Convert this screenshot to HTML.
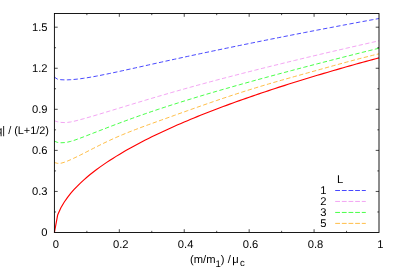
<!DOCTYPE html>
<html><head><meta charset="utf-8"><style>
html,body{margin:0;padding:0;background:#fff;}
svg{display:block;will-change:transform;}
text{font-family:"Liberation Sans",sans-serif;font-size:11.2px;fill:#000;text-rendering:geometricPrecision;}
</style></head><body>
<svg width="399" height="279" viewBox="0 0 399 279">
<rect width="399" height="279" fill="#fff"/>
<g>
<path d="M54.40,77.15 L57.65,79.24 L60.89,79.71 L64.14,79.87 L67.38,79.85 L70.63,79.70 L73.88,79.45 L77.12,79.13 L80.37,78.74 L83.61,78.29 L86.86,77.79 L90.11,77.25 L93.35,76.68 L96.60,76.08 L99.84,75.46 L103.09,74.81 L106.34,74.16 L109.58,73.49 L112.83,72.81 L116.07,72.11 L119.32,71.42 L122.57,70.71 L125.81,70.00 L129.06,69.29 L132.30,68.57 L135.55,67.85 L138.80,67.13 L142.04,66.41 L145.29,65.69 L148.53,64.97 L151.78,64.24 L155.03,63.52 L158.27,62.80 L161.52,62.08 L164.76,61.37 L168.01,60.65 L171.26,59.94 L174.50,59.23 L177.75,58.53 L180.99,57.82 L184.24,57.12 L187.49,56.42 L190.73,55.72 L193.98,55.03 L197.22,54.34 L200.47,53.65 L203.72,52.96 L206.96,52.27 L210.21,51.59 L213.45,50.91 L216.70,50.23 L219.95,49.55 L223.19,48.87 L226.44,48.20 L229.68,47.53 L232.93,46.86 L236.18,46.19 L239.42,45.53 L242.67,44.86 L245.91,44.20 L249.16,43.54 L252.41,42.88 L255.65,42.23 L258.90,41.57 L262.14,40.92 L265.39,40.27 L268.64,39.62 L271.88,38.97 L275.13,38.33 L278.37,37.69 L281.62,37.04 L284.87,36.40 L288.11,35.77 L291.36,35.13 L294.60,34.49 L297.85,33.86 L301.10,33.23 L304.34,32.60 L307.59,31.97 L310.83,31.34 L314.08,30.72 L317.33,30.09 L320.57,29.47 L323.82,28.85 L327.06,28.23 L330.31,27.61 L333.56,27.00 L336.80,26.38 L340.05,25.77 L343.29,25.16 L346.54,24.55 L349.79,23.94 L353.03,23.33 L356.28,22.73 L359.52,22.12 L362.77,21.52 L366.02,20.92 L369.26,20.32 L372.51,19.72 L375.75,19.12 L379.00,18.53" fill="none" stroke="#0000ff" stroke-width="0.72" stroke-dasharray="4.33 2.37" stroke-dashoffset="0.3"/>
<path d="M54.40,120.78 L57.65,121.82 L60.89,122.40 L64.14,122.57 L67.38,122.41 L70.63,121.97 L73.88,121.29 L77.12,120.49 L80.37,119.63 L83.61,118.74 L86.86,117.83 L90.11,116.89 L93.35,115.94 L96.60,114.98 L99.84,114.01 L103.09,113.03 L106.34,112.04 L109.58,111.06 L112.83,110.07 L116.07,109.08 L119.32,108.09 L122.57,107.10 L125.81,106.11 L129.06,105.12 L132.30,104.14 L135.55,103.16 L138.80,102.18 L142.04,101.21 L145.29,100.23 L148.53,99.27 L151.78,98.30 L155.03,97.35 L158.27,96.39 L161.52,95.44 L164.76,94.50 L168.01,93.56 L171.26,92.62 L174.50,91.69 L177.75,90.77 L180.99,89.85 L184.24,88.94 L187.49,88.03 L190.73,87.13 L193.98,86.23 L197.22,85.34 L200.47,84.45 L203.72,83.57 L206.96,82.69 L210.21,81.82 L213.45,80.95 L216.70,80.09 L219.95,79.23 L223.19,78.38 L226.44,77.53 L229.68,76.68 L232.93,75.84 L236.18,75.00 L239.42,74.16 L242.67,73.33 L245.91,72.50 L249.16,71.68 L252.41,70.86 L255.65,70.04 L258.90,69.22 L262.14,68.41 L265.39,67.60 L268.64,66.80 L271.88,65.99 L275.13,65.19 L278.37,64.40 L281.62,63.60 L284.87,62.81 L288.11,62.02 L291.36,61.23 L294.60,60.45 L297.85,59.67 L301.10,58.89 L304.34,58.11 L307.59,57.33 L310.83,56.56 L314.08,55.79 L317.33,55.02 L320.57,54.26 L323.82,53.49 L327.06,52.73 L330.31,51.97 L333.56,51.22 L336.80,50.46 L340.05,49.71 L343.29,48.96 L346.54,48.21 L349.79,47.46 L353.03,46.71 L356.28,45.97 L359.52,45.23 L362.77,44.49 L366.02,43.75 L369.26,43.01 L372.51,42.28 L375.75,41.54 L379.00,40.81" fill="none" stroke="#ee82ee" stroke-width="0.72" stroke-dasharray="4.33 2.37" stroke-dashoffset="0.3"/>
<path d="M54.40,141.19 L57.65,142.43 L60.89,142.76 L64.14,142.64 L67.38,142.17 L70.63,141.41 L73.88,140.42 L77.12,139.29 L80.37,138.08 L83.61,136.85 L86.86,135.59 L90.11,134.33 L93.35,133.07 L96.60,131.81 L99.84,130.54 L103.09,129.29 L106.34,128.04 L109.58,126.79 L112.83,125.55 L116.07,124.32 L119.32,123.11 L122.57,121.90 L125.81,120.70 L129.06,119.51 L132.30,118.33 L135.55,117.17 L138.80,116.01 L142.04,114.87 L145.29,113.74 L148.53,112.62 L151.78,111.51 L155.03,110.42 L158.27,109.34 L161.52,108.26 L164.76,107.20 L168.01,106.15 L171.26,105.10 L174.50,104.07 L177.75,103.04 L180.99,102.02 L184.24,101.01 L187.49,100.00 L190.73,99.01 L193.98,98.02 L197.22,97.03 L200.47,96.06 L203.72,95.09 L206.96,94.12 L210.21,93.16 L213.45,92.21 L216.70,91.26 L219.95,90.32 L223.19,89.38 L226.44,88.45 L229.68,87.52 L232.93,86.59 L236.18,85.67 L239.42,84.76 L242.67,83.85 L245.91,82.94 L249.16,82.04 L252.41,81.14 L255.65,80.24 L258.90,79.35 L262.14,78.46 L265.39,77.58 L268.64,76.69 L271.88,75.82 L275.13,74.94 L278.37,74.07 L281.62,73.20 L284.87,72.33 L288.11,71.47 L291.36,70.61 L294.60,69.75 L297.85,68.89 L301.10,68.04 L304.34,67.19 L307.59,66.34 L310.83,65.50 L314.08,64.66 L317.33,63.81 L320.57,62.98 L323.82,62.14 L327.06,61.31 L330.31,60.47 L333.56,59.64 L336.80,58.82 L340.05,57.99 L343.29,57.17 L346.54,56.35 L349.79,55.53 L353.03,54.71 L356.28,53.89 L359.52,53.08 L362.77,52.26 L366.02,51.45 L369.26,50.64 L372.51,49.84 L375.75,49.03 L379.00,48.23" fill="none" stroke="#00ff00" stroke-width="0.72" stroke-dasharray="4.33 2.37" stroke-dashoffset="0.3"/>
<path d="M54.40,162.50 L57.65,163.37 L60.89,163.25 L64.14,162.33 L67.38,161.09 L70.63,159.69 L73.88,158.19 L77.12,156.63 L80.37,155.02 L83.61,153.37 L86.86,151.71 L90.11,150.04 L93.35,148.38 L96.60,146.73 L99.84,145.11 L103.09,143.51 L106.34,141.94 L109.58,140.41 L112.83,138.92 L116.07,137.46 L119.32,136.05 L122.57,134.68 L125.81,133.34 L129.06,132.04 L132.30,130.77 L135.55,129.52 L138.80,128.29 L142.04,127.07 L145.29,125.87 L148.53,124.68 L151.78,123.51 L155.03,122.33 L158.27,121.17 L161.52,120.00 L164.76,118.84 L168.01,117.68 L171.26,116.52 L174.50,115.35 L177.75,114.19 L180.99,113.02 L184.24,111.86 L187.49,110.70 L190.73,109.55 L193.98,108.40 L197.22,107.25 L200.47,106.11 L203.72,104.97 L206.96,103.84 L210.21,102.71 L213.45,101.60 L216.70,100.49 L219.95,99.38 L223.19,98.29 L226.44,97.20 L229.68,96.13 L232.93,95.06 L236.18,94.00 L239.42,92.95 L242.67,91.91 L245.91,90.88 L249.16,89.86 L252.41,88.85 L255.65,87.85 L258.90,86.86 L262.14,85.88 L265.39,84.91 L268.64,83.96 L271.88,83.01 L275.13,82.06 L278.37,81.13 L281.62,80.20 L284.87,79.28 L288.11,78.36 L291.36,77.44 L294.60,76.53 L297.85,75.62 L301.10,74.72 L304.34,73.81 L307.59,72.91 L310.83,72.01 L314.08,71.10 L317.33,70.20 L320.57,69.30 L323.82,68.39 L327.06,67.49 L330.31,66.58 L333.56,65.68 L336.80,64.78 L340.05,63.89 L343.29,63.00 L346.54,62.12 L349.79,61.24 L353.03,60.38 L356.28,59.52 L359.52,58.67 L362.77,57.83 L366.02,57.00 L369.26,56.18 L372.51,55.37 L375.75,54.58 L379.00,53.80" fill="none" stroke="#ffa500" stroke-width="0.72" stroke-dasharray="4.33 2.37" stroke-dashoffset="0.3"/>
<path d="M54.40,232.50 L57.65,215.03 L60.89,207.80 L64.14,202.25 L67.38,197.57 L70.63,193.45 L73.88,189.72 L77.12,186.29 L80.37,183.10 L83.61,180.10 L86.86,177.27 L90.11,174.57 L93.35,172.00 L96.60,169.53 L99.84,167.15 L103.09,164.86 L106.34,162.64 L109.58,160.49 L112.83,158.40 L116.07,156.37 L119.32,154.39 L122.57,152.46 L125.81,150.58 L129.06,148.74 L132.30,146.94 L135.55,145.17 L138.80,143.44 L142.04,141.75 L145.29,140.08 L148.53,138.45 L151.78,136.84 L155.03,135.26 L158.27,133.70 L161.52,132.17 L164.76,130.66 L168.01,129.17 L171.26,127.71 L174.50,126.26 L177.75,124.84 L180.99,123.43 L184.24,122.04 L187.49,120.67 L190.73,119.31 L193.98,117.97 L197.22,116.65 L200.47,115.34 L203.72,114.04 L206.96,112.76 L210.21,111.50 L213.45,110.24 L216.70,109.00 L219.95,107.77 L223.19,106.56 L226.44,105.35 L229.68,104.16 L232.93,102.97 L236.18,101.80 L239.42,100.64 L242.67,99.49 L245.91,98.35 L249.16,97.21 L252.41,96.09 L255.65,94.98 L258.90,93.87 L262.14,92.78 L265.39,91.69 L268.64,90.61 L271.88,89.54 L275.13,88.48 L278.37,87.42 L281.62,86.38 L284.87,85.34 L288.11,84.30 L291.36,83.28 L294.60,82.26 L297.85,81.25 L301.10,80.24 L304.34,79.24 L307.59,78.25 L310.83,77.27 L314.08,76.29 L317.33,75.31 L320.57,74.35 L323.82,73.38 L327.06,72.43 L330.31,71.48 L333.56,70.53 L336.80,69.59 L340.05,68.66 L343.29,67.73 L346.54,66.81 L349.79,65.89 L353.03,64.98 L356.28,64.07 L359.52,63.17 L362.77,62.27 L366.02,61.38 L369.26,60.49 L372.51,59.60 L375.75,58.72 L379.00,57.85" fill="none" stroke="#ff0000" stroke-width="1.15"/>
</g>
<g stroke="#000" stroke-width="0.9" fill="none">
<rect x="54.4" y="13.5" width="324.6" height="219.0"/>
<path stroke-width="0.7" d="M54.4,211.97h1.65M379.0,211.97h-1.65 M54.4,191.44h3.3M379.0,191.44h-3.3 M54.4,170.91h1.65M379.0,170.91h-1.65 M54.4,150.38h3.3M379.0,150.38h-3.3 M54.4,129.84h1.65M379.0,129.84h-1.65 M54.4,109.31h3.3M379.0,109.31h-3.3 M54.4,88.78h1.65M379.0,88.78h-1.65 M54.4,68.25h3.3M379.0,68.25h-3.3 M54.4,47.72h1.65M379.0,47.72h-1.65 M54.4,27.19h3.3M379.0,27.19h-3.3 M86.86,232.5v-1.65M86.86,13.5v1.65 M119.32,232.5v-3.3M119.32,13.5v3.3 M151.78,232.5v-1.65M151.78,13.5v1.65 M184.24,232.5v-3.3M184.24,13.5v3.3 M216.70,232.5v-1.65M216.70,13.5v1.65 M249.16,232.5v-3.3M249.16,13.5v3.3 M281.62,232.5v-1.65M281.62,13.5v1.65 M314.08,232.5v-3.3M314.08,13.5v3.3 M346.54,232.5v-1.65M346.54,13.5v1.65"/>
</g>
<g>
<text x="47.6" y="236.40" text-anchor="end">0</text>
<text x="47.6" y="195.34" text-anchor="end">0.3</text>
<text x="47.6" y="154.28" text-anchor="end">0.6</text>
<text x="47.6" y="113.21" text-anchor="end">0.9</text>
<text x="47.6" y="72.15" text-anchor="end">1.2</text>
<text x="47.6" y="31.09" text-anchor="end">1.5</text>
<text x="55.80" y="247.6" text-anchor="middle">0</text>
<text x="120.72" y="247.6" text-anchor="middle">0.2</text>
<text x="185.64" y="247.6" text-anchor="middle">0.4</text>
<text x="250.56" y="247.6" text-anchor="middle">0.6</text>
<text x="315.48" y="247.6" text-anchor="middle">0.8</text>
<text x="380.40" y="247.6" text-anchor="middle">1</text>
<text x="337" y="182.8">L</text>
<text x="326.5" y="194.40" text-anchor="end">1</text>
<path d="M335.2,190.5H365.8" stroke="#0000ff" stroke-width="0.72" stroke-dasharray="4.8 1.85" fill="none"/>
<text x="326.5" y="205.35" text-anchor="end">2</text>
<path d="M335.2,201.45H365.8" stroke="#ee82ee" stroke-width="0.72" stroke-dasharray="4.8 1.85" fill="none"/>
<text x="326.5" y="216.35" text-anchor="end">3</text>
<path d="M335.2,212.45H365.8" stroke="#00ff00" stroke-width="0.72" stroke-dasharray="4.8 1.85" fill="none"/>
<text x="326.5" y="227.30" text-anchor="end">5</text>
<path d="M335.2,223.4H365.8" stroke="#ffa500" stroke-width="0.72" stroke-dasharray="4.8 1.85" fill="none"/>
<text x="49" y="134" text-anchor="end" style="font-size:10.9px">|q| / (L+1/2)</text>
<text x="190" y="263.2">(m/m<tspan font-size="9.6px" dy="3.6">1</tspan><tspan dy="-3.6">) /</tspan><tspan dx="1.5">μ</tspan><tspan font-size="9.6px" dy="2.6" dx="1.2">c</tspan></text>
</g>
</svg>
</body></html>
